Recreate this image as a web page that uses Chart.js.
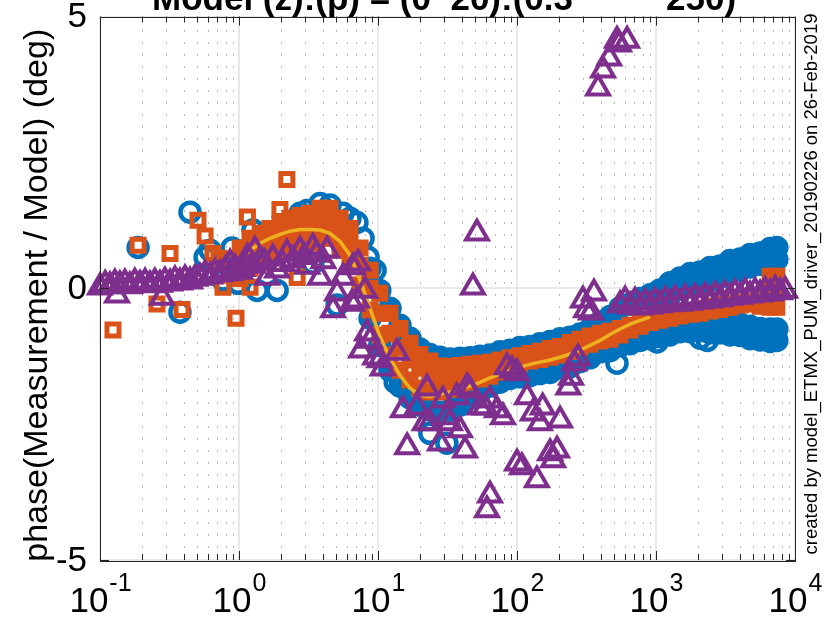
<!DOCTYPE html>
<html>
<head>
<meta charset="utf-8">
<script src="https://cdn.jsdelivr.net/npm/chart.js@4.4.0/dist/chart.umd.min.js"></script>
<style>
  html, body { margin: 0; padding: 0; background: #fff; }
  #wrap { width: 824px; height: 618px; }
</style>
</head>
<body>
<div id="wrap"><canvas id="phaseChart" width="824" height="618"></canvas></div>
<script>
// shared frequency grid (Hz) of the swept measurements
const freqBand = [1.02, 1.20, 1.42, 1.67, 1.97, 2.33, 2.75, 3.24, 3.83, 4.52,
  5.33, 6.29, 7.43, 8.77, 10.3, 12.2, 14.4, 17.0, 20.0, 23.6,
  27.9, 32.9, 38.9, 45.9, 54.1, 63.9, 75.4, 89.0, 105, 124,
  146, 173, 204, 241, 284, 335, 396, 467, 551, 651,
  768, 906, 1070, 1260, 1490, 1760, 2080, 2450, 2890, 3410,
  4030, 4750, 5610, 6620, 7400];

// model fit (yellow), from 1 Hz up
const modelPhase = [0.55, 0.70, 0.83, 0.92, 0.99, 1.05, 1.08, 1.08, 1.07, 1.01,
  0.86, 0.61, 0.15, -0.37, -0.88, -1.29, -1.60, -1.84, -1.97, -1.99,
  -1.95, -1.91, -1.86, -1.80, -1.73, -1.65, -1.58, -1.51, -1.45, -1.40,
  -1.36, -1.32, -1.27, -1.21, -1.14, -1.05, -0.96, -0.85, -0.75, -0.66,
  -0.59, -0.53];

// orange squares, dense sweeps
const orangeUpper = [0.74, 0.92, 1.01, 1.10, 1.19, 1.29, 1.34, 1.38, 1.47, 1.47,
  1.29, 1.10, 0.74, 0.33, -0.09, -0.46, -0.74, -1.01, -1.22, -1.34,
  -1.43, -1.44, -1.42, -1.40, -1.38, -1.36, -1.32, -1.28, -1.24, -1.20,
  -1.16, -1.11, -1.07, -1.00, -0.94, -0.88, -0.83, -0.79, -0.74, -0.68,
  -0.64, -0.61, -0.55, -0.50, -0.46, -0.40, -0.37, -0.33, -0.29, -0.28,
  -0.26, -0.24, -0.18, 0.22, 0.22];
const orangeMidLow = [0.46, 0.64, 0.74, 0.83, 0.92, 1.01, 1.07, 1.10, 1.19, 1.19,
  1.01, 0.79, 0.42, 0.00, -0.46, -0.83, -1.10, -1.32, -1.47, -1.58,
  -1.64, -1.62, -1.56, -1.53, -1.49, -1.45, -1.40];
const orangeMidTop = [-0.04, -0.04];
const orangeLower = [0.18, 0.37, 0.46, 0.55, 0.64, 0.74, 0.79, 0.83, 0.92, 0.92,
  0.70, 0.42, 0.06, -0.40, -0.86, -1.23, -1.51, -1.69, -1.84, -1.91,
  -1.91, -1.86, -1.78, -1.73, -1.67, -1.62, -1.54, -1.42, -1.38, -1.34,
  -1.31, -1.27, -1.23, -1.16, -1.08, -1.03, -0.97, -0.94, -0.86, -0.77,
  -0.70, -0.63, -0.59, -0.55, -0.51, -0.48, -0.46, -0.42, -0.39, -0.35,
  -0.31, -0.29, -0.33, -0.35, -0.35];
const orangeScatterFreq = [0.124, 0.188, 0.257, 0.319, 0.389, 0.507, 0.570, 0.650, 0.718, 0.767,
  0.834, 0.952, 1.15, 1.20, 1.97, 2.21, 2.62];
const orangeScatterPhase = [-0.77, 0.79, -0.29, 0.64, -0.39, 1.25, 0.96, 0.64, 0.55, 0.02,
  0.51, -0.55, 1.31, 0.02, 1.45, 2.00, 0.20];

// blue circles, sweeps above 8 Hz
const blueUpper = [0.37, -0.04, -0.37, -0.68, -0.92, -1.12, -1.22, -1.27, -1.30, -1.29,
  -1.28, -1.25, -1.23, -1.17, -1.14, -1.09, -1.07, -1.02, -0.98, -0.93,
  -0.90, -0.84, -0.75, -0.62, -0.52, -0.36, -0.29, -0.19, -0.12, -0.03,
  0.10, 0.19, 0.27, 0.30, 0.38, 0.41, 0.51, 0.54, 0.62, 0.65,
  0.73, 0.75];
const blueLower = [-0.55, -1.05, -1.51, -1.80, -2.02, -2.15, -2.24, -2.28, -2.24, -2.15,
  -2.02, -1.91, -1.80, -1.73, -1.66, -1.63, -1.61, -1.57, -1.55, -1.46,
  -1.45, -1.35, -1.28, -1.17, -1.15, -1.06, -1.02, -0.96, -0.93, -0.89,
  -0.86, -0.80, -0.80, -0.78, -0.82, -0.82, -0.86, -0.87, -0.93, -0.95,
  -0.98, -0.96];
const blueUpper2 = [-0.26, -0.13, -0.02, 0.04, 0.09, 0.15, 0.20, 0.28, 0.33, 0.39, 0.44, 0.50, 0.53];
const blueLower2 = [-0.57, -0.59, -0.61, -0.63, -0.66, -0.70, -0.74, -0.75, -0.75];
const blueScatterFreq = [0.188, 0.444, 0.376, 0.570, 0.619, 0.767, 0.891, 0.986, 1.11, 1.26,
  1.35, 1.54, 1.88, 2.33, 2.75, 3.09, 3.40, 3.83, 4.52, 5.08,
  5.60, 6.29, 7.06, 7.81, 8.48, 9.53, 13.3, 17.9, 23.6, 31.3,
  524, 1017, 2080, 2340];
const blueScatterPhase = [0.75, 1.40, -0.44, 0.57, 0.70, 0.15, 0.74, 0.09, 0.70, 1.07,
  -0.04, 0.79, -0.04, 1.21, 1.38, 1.43, 0.46, 1.56, 1.53, -0.31,
  1.38, 1.29, 1.21, 0.92, 0.57, 0.33, -1.73, -1.93, -2.67, -2.85,
  -1.38, -0.99, -0.92, -0.96];

// purple triangles
const purpleLowFreq = [0.100, 0.109, 0.118, 0.128, 0.139, 0.151, 0.164, 0.178, 0.194, 0.211,
  0.229, 0.248, 0.270, 0.293, 0.319, 0.346, 0.376, 0.409, 0.444, 0.483,
  0.524, 0.570, 0.619, 0.672, 0.730, 0.794, 0.862, 0.937, 1.02];
const purpleLowPhase = [0.02, 0.07, 0.04, 0.09, 0.06, 0.09, 0.04, 0.11, 0.07, 0.11,
  0.06, 0.11, 0.07, 0.13, 0.09, 0.15, 0.11, 0.17, 0.13, 0.18,
  0.20, 0.26, 0.22, 0.29, 0.26, 0.33, 0.28, 0.37, 0.31];
const purplePeakFreq = [1.05, 1.25, 1.52, 1.75, 2.05, 2.45, 2.95, 3.10, 3.60, 4.05];
const purplePeakPhase = [0.36, 0.42, 0.48, 0.55, 0.45, 0.52, 0.58, 0.40, 0.62, 0.50];
const purpleMidFreq = [0.1325, 0.279, 0.862, 1.15, 1.30, 1.42, 1.59, 1.88, 2.21, 2.75,
  3.40, 3.83, 4.30, 4.75, 5.08, 5.60, 6.50, 6.61, 7.06, 7.19,
  7.56, 8.07, 8.34, 8.77, 9.53, 10.3, 10.8, 13.7, 15.1, 16.2,
  19.1, 21.7, 22.5, 23.6, 27.9, 29.3, 31.3, 32.9, 36.9, 38.9,
  42.3, 43.7, 45.9, 48.2, 51.5, 54.1, 58.8, 63.9, 63.9, 60.8,
  71.8, 79.2, 84.7, 92.0, 100, 100, 108.6, 118, 130, 139,
  146, 153, 173, 182, 194, 204, 234, 245, 258, 275,
  298, 314, 341, 358, 383, 416, 460, 524, 542, 619];
const purpleMidPhase = [-0.13, -0.17, 0.46, 0.57, 0.70, 0.51, 0.20, 0.33, 0.64, 0.70,
  0.75, 0.20, 0.70, -0.40, -0.09, 0.20, -0.28, 0.39, -0.22, 0.46,
  -1.14, -0.04, -0.83, -0.96, -1.27, -1.32, -1.47, -1.18, -2.24, -2.92,
  -2.19, -2.48, -1.84, -2.48, -2.85, -2.06, -2.37, -2.48, -2.00, -2.61,
  -2.98, -1.82, -1.88, 0.02, 1.01, -2.19, -2.19, -2.06, -3.81, -4.08,
  -2.24, -2.37, -1.45, -1.51, -1.56, -3.22, -3.29, -2.00, -2.30, -3.53,
  -2.48, -2.19, -3.03, -3.16, -2.98, -2.43, -1.82, -1.64, -1.38, -1.29,
  -0.22, -0.40, -0.44, -0.09, 3.68, 4.01, 4.23, 4.56, 4.49, 4.56];
const purpleHighFreq = [551, 599, 651, 707, 768, 835, 906, 985, 1070, 1163,
  1260, 1370, 1490, 1620, 1760, 1910, 2080, 2260, 2450, 2660,
  2890, 3140, 3410, 3710, 4030, 4380, 4750, 5160, 5610, 6090,
  6620, 7190, 7810, 8490];
const purpleHighPhase = [-0.31, -0.22, -0.33, -0.24, -0.35, -0.26, -0.33, -0.24, -0.31, -0.22,
  -0.29, -0.20, -0.28, -0.18, -0.26, -0.17, -0.24, -0.15, -0.22, -0.13,
  -0.20, -0.11, -0.17, -0.09, -0.15, -0.07, -0.13, -0.06, -0.11, -0.04,
  -0.09, -0.02, -0.07, -0.04];

// axes
const xDecades = [0.1, 1, 10, 100, 1000, 10000];
const xExponents = ['-1', '0', '1', '2', '3', '4'];
const yTicks = [-5, 0, 5];

const titleLeft = 'Model (z):(p) = (0  20):(0.3';
const titleRight = '250)';
const yLabel = 'phase(Measurement / Model) (deg)';
const sideNote = 'created by model_ETMX_PUM_driver_20190226 on 26-Feb-2019';

const BLUE = '#0072BD', ORANGE = '#D95319', YELLOW = '#EDB120', PURPLE = '#7E2F8E';
const FONT = '"Liberation Sans", Arial, sans-serif';

function zip(freqs, phases) {
  return phases.map((p, i) => ({ x: freqs[i], y: p }));
}
const head = n => freqBand.slice(0, n);
const tail = n => freqBand.slice(freqBand.length - n);

const minorX = [];
xDecades.slice(0, -1).forEach(d => {
  for (let k = 2; k <= 9; k++) minorX.push(d * k);
});

function line(ctx, x1, y1, x2, y2) {
  ctx.beginPath();
  ctx.moveTo(x1, y1);
  ctx.lineTo(x2, y2);
  ctx.stroke();
}

const matlabAxes = {
  id: 'matlabAxes',
  beforeDatasetsDraw(chart) {
    const { ctx, chartArea: a, scales: { x, y } } = chart;
    ctx.save();
    // minor grid (dotted)
    ctx.strokeStyle = '#b8b8b8';
    ctx.lineWidth = 1;
    ctx.setLineDash([2, 10]);
    minorX.forEach(v => {
      const px = Math.round(x.getPixelForValue(v)) + 0.5;
      line(ctx, px, a.bottom, px, a.top);
    });
    // major grid
    ctx.setLineDash([]);
    ctx.strokeStyle = '#e2e2e2';
    ctx.lineWidth = 1.5;
    xDecades.forEach(v => {
      const px = Math.round(x.getPixelForValue(v));
      line(ctx, px, a.top, px, a.bottom);
    });
    yTicks.forEach(v => {
      const py = Math.round(y.getPixelForValue(v));
      line(ctx, a.left, py, a.right, py);
    });
    ctx.restore();
  },
  afterDatasetsDraw(chart) {
    const { ctx, chartArea: a, scales: { x, y } } = chart;
    ctx.save();
    ctx.strokeStyle = '#262626';
    ctx.lineWidth = 1;
    ctx.strokeRect(Math.round(a.left) + 0.5, Math.round(a.top) + 0.5,
      Math.round(a.right - a.left), Math.round(a.bottom - a.top));

    // tick marks, inward on all sides
    xDecades.forEach(v => {
      const px = Math.round(x.getPixelForValue(v)) + 0.5;
      line(ctx, px, a.bottom, px, a.bottom - 9);
      line(ctx, px, a.top, px, a.top + 9);
    });
    minorX.forEach(v => {
      const px = Math.round(x.getPixelForValue(v)) + 0.5;
      line(ctx, px, a.bottom, px, a.bottom - 6);
      line(ctx, px, a.top, px, a.top + 6);
    });
    yTicks.forEach(v => {
      const py = Math.round(y.getPixelForValue(v)) + 0.5;
      line(ctx, a.left, py, a.left + 9, py);
      line(ctx, a.right, py, a.right - 9, py);
    });

    ctx.fillStyle = '#000';
    // x tick labels 10^n
    xDecades.forEach((v, i) => {
      const px = x.getPixelForValue(v);
      ctx.font = '35px ' + FONT;
      const wb = ctx.measureText('10').width;
      ctx.font = '25px ' + FONT;
      const we = ctx.measureText(xExponents[i]).width;
      const x0 = px - (wb + we) / 2;
      ctx.textAlign = 'left';
      ctx.textBaseline = 'alphabetic';
      ctx.font = '35px ' + FONT;
      ctx.fillText('10', x0, a.bottom + 52);
      ctx.font = '25px ' + FONT;
      ctx.fillText(xExponents[i], x0 + wb + 1, a.bottom + 31);
    });

    // y tick labels
    ctx.font = '35px ' + FONT;
    ctx.textAlign = 'right';
    ctx.textBaseline = 'middle';
    yTicks.forEach(v => {
      ctx.fillText(String(v), a.left - 13, y.getPixelForValue(v) + 1);
    });

    // y axis label
    ctx.save();
    ctx.translate(38, (a.top + a.bottom) / 2 + 7);
    ctx.rotate(-Math.PI / 2);
    ctx.textAlign = 'center';
    ctx.textBaseline = 'middle';
    ctx.font = '34px ' + FONT;
    ctx.fillText(yLabel, 0, 0);
    ctx.restore();

    // title, cut by the top edge
    ctx.font = 'bold 35px ' + FONT;
    ctx.textAlign = 'left';
    ctx.textBaseline = 'alphabetic';
    ctx.fillText(titleLeft, 152, 10);
    ctx.fillText(titleRight, 666, 10);

    // side note
    ctx.save();
    ctx.translate(812, 284);
    ctx.rotate(-Math.PI / 2);
    ctx.textAlign = 'center';
    ctx.textBaseline = 'middle';
    ctx.font = '18.5px ' + FONT;
    ctx.fillText(sideNote, 0, 0);
    ctx.restore();

    ctx.restore();
  }
};

const hollow = 'rgba(0,0,0,0)';

new Chart(document.getElementById('phaseChart'), {
  type: 'scatter',
  data: {
    datasets: [
      {
        label: 'purple',
        order: 0,
        data: [
          ...zip(purpleLowFreq, purpleLowPhase),
          ...zip(purplePeakFreq, purplePeakPhase),
          ...zip(purpleMidFreq, purpleMidPhase),
          ...zip(purpleHighFreq, purpleHighPhase)
        ],
        pointStyle: 'triangle',
        pointRadius: 12.5,
        pointBorderWidth: 4,
        pointBorderColor: PURPLE,
        pointBackgroundColor: hollow,
        clip: false
      },
      {
        label: 'model',
        order: 1,
        data: zip(head(modelPhase.length), modelPhase),
        showLine: true,
        borderColor: YELLOW,
        borderWidth: 3.5,
        pointRadius: 0,
        clip: false
      },
      {
        label: 'orange sweeps',
        order: 2,
        data: [
          ...zip(freqBand, orangeUpper),
          ...zip(head(orangeMidLow.length), orangeMidLow),
          ...zip(tail(orangeMidTop.length), orangeMidTop),
          ...zip(freqBand, orangeLower)
        ],
        pointStyle: 'rect',
        pointRadius: 8.5,
        pointBorderWidth: 5,
        pointBorderColor: ORANGE,
        pointBackgroundColor: ORANGE,
        clip: false
      },
      {
        label: 'orange scatter',
        order: 2,
        data: zip(orangeScatterFreq, orangeScatterPhase),
        pointStyle: 'rect',
        pointRadius: 8.5,
        pointBorderWidth: 5,
        pointBorderColor: ORANGE,
        pointBackgroundColor: hollow,
        clip: false
      },
      {
        label: 'blue sweeps',
        order: 3,
        data: [
          ...zip(tail(blueUpper.length), blueUpper),
          ...zip(tail(blueUpper2.length), blueUpper2),
          ...zip(tail(blueLower.length), blueLower),
          ...zip(tail(blueLower2.length), blueLower2)
        ],
        pointStyle: 'circle',
        pointRadius: 9.5,
        pointBorderWidth: 4.5,
        pointBorderColor: BLUE,
        pointBackgroundColor: BLUE,
        clip: false
      },
      {
        label: 'blue scatter',
        order: 3,
        data: zip(blueScatterFreq, blueScatterPhase),
        pointStyle: 'circle',
        pointRadius: 9.5,
        pointBorderWidth: 4.5,
        pointBorderColor: BLUE,
        pointBackgroundColor: hollow,
        clip: false
      }
    ]
  },
  options: {
    responsive: false,
    animation: false,
    events: [],
    layout: { padding: { left: 100, right: 29, top: 16, bottom: 58 } },
    plugins: { legend: { display: false }, tooltip: { enabled: false } },
    scales: {
      x: { type: 'logarithmic', min: 0.1, max: 10000, display: false },
      y: { type: 'linear', min: -5, max: 5, display: false }
    }
  },
  plugins: [matlabAxes]
});
</script>
</body>
</html>
